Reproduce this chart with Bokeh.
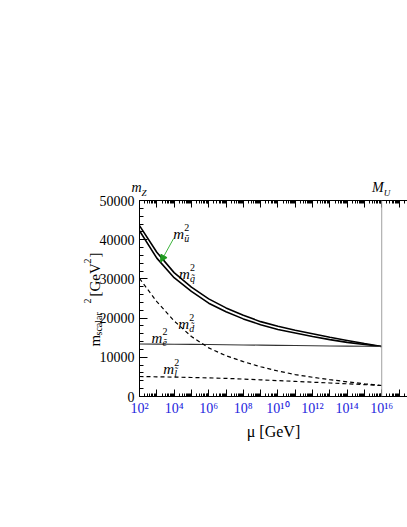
import numpy as np
from bokeh.plotting import figure
from bokeh.models import (Range1d, FixedTicker, SingleIntervalTicker, LogAxis,
                          Label, Arrow, NormalHead, Span)
from bokeh.embed import file_html
from bokeh.resources import INLINE

# ---------------- data ----------------
log_mu = [2, 3, 4, 5, 6, 7, 8, 9, 10, 11, 12, 13, 14, 15, 16]
mu = [10.0 ** l for l in log_mu]
m2_q = [43600, 36800, 31600, 27900, 24900, 22600, 20700, 19100, 17900, 16900, 16000, 15100, 14300, 13500, 12750]
m2_u = [42300, 35300, 30300, 26800, 23800, 21600, 19800, 18300, 17100, 16200, 15300, 14500, 13800, 13250, 12750]
m2_e = [13400, 13370, 13330, 13290, 13250, 13200, 13150, 13100, 13050, 13000, 12950, 12900, 12850, 12800, 12750]
m2_d = [30100, 24200, 19300, 15300, 12400, 10400, 8900, 7600, 6500, 5600, 4900, 4300, 3750, 3250, 2800]
m2_l = [5100, 5030, 4950, 4850, 4750, 4620, 4450, 4250, 4050, 3850, 3650, 3450, 3250, 3030, 2800]

mu_Z = 1e2
mu_U = 1e16

x_major = [10.0 ** k for k in range(2, 18)]
x_minor = [m * 10.0 ** k for k in range(1, 18) for m in range(2, 10)]
x_tick_labels = ["10²", "", "10⁴", "", "10⁶", "", "10⁸", "", "10¹⁰", "", "10¹²", "",
                 "10¹⁴", "", "10¹⁶", ""]

# curve labels: subscript, log10(mu) and value of the base "m"
lab_sub = ["ũ", "q̃", "d̃", "ẽ", "l̃"]
lab_logmu = [3.95, 4.28, 4.24, 2.69, 3.37]
lab_val = [41580, 31300, 18500, 15050, 7140]

SERIF = "Liberation Serif"

p = figure(width=407, height=518, x_axis_type="log",
           x_range=Range1d(1e2, 10 ** 17.49), y_range=Range1d(0, 50000),
           output_backend="svg", toolbar_location=None,
           min_border_left=139, min_border_right=0,
           min_border_top=200, min_border_bottom=122)
p.grid.visible = False
p.outline_line_color = None
p.background_fill_color = "white"
p.border_fill_color = "white"

xt = FixedTicker(ticks=x_major, minor_ticks=x_minor)
xa = p.xaxis[0]
xa.ticker = xt
xa.major_label_overrides = {t: s for t, s in zip(x_major, x_tick_labels)}
xa.major_label_text_font = SERIF
xa.major_label_text_font_size = "14px"
xa.major_label_text_color = "#2323dd"
xa.major_label_standoff = 4
xa.major_tick_in = 7
xa.major_tick_out = 0
xa.minor_tick_in = 3
xa.minor_tick_out = 0
xa.axis_label = "μ [GeV]"
xa.axis_label_text_font = SERIF
xa.axis_label_text_font_style = "normal"
xa.axis_label_text_font_size = "16px"
xa.axis_label_text_color = "black"
xa.axis_label_standoff = 4
xa.axis_line_color = "black"

top = LogAxis(ticker=xt, major_label_text_font_size="0px", axis_line_color="black",
              major_tick_in=7, major_tick_out=0, minor_tick_in=3, minor_tick_out=0)
top.major_label_overrides = {t: "" for t in x_major}
p.add_layout(top, "above")

ya = p.yaxis[0]
ya.ticker = SingleIntervalTicker(interval=10000, num_minor_ticks=5)
ya.major_label_text_font = SERIF
ya.major_label_text_font_size = "14px"
ya.major_label_text_color = "black"
ya.major_label_standoff = 5
ya.major_tick_in = 8
ya.major_tick_out = 0
ya.minor_tick_in = 4
ya.minor_tick_out = 0
ya.axis_line_color = "black"

# curves
p.line(mu, m2_q, line_color="black", line_width=1.6)
p.line(mu, m2_u, line_color="black", line_width=1.6)
p.line(mu, m2_e, line_color="#333333", line_width=1.1)
p.line(mu, m2_d, line_color="black", line_width=1.2, line_dash="4 3")
p.line(mu, m2_l, line_color="black", line_width=1.2, line_dash="4 3")

p.add_layout(Span(location=mu_U, dimension="height", line_color="#a0a0a0", line_width=1))

# arrow to m_u curve
p.add_layout(Arrow(end=NormalHead(size=7, fill_color="#1f9a1f", line_color="#1f9a1f"),
                   x_start=10 ** 3.97, y_start=40300, x_end=10 ** 3.22, y_end=34300,
                   line_color="#3cb43c", line_width=1))

# curve labels m^2_x
for sub, lx, v in zip(lab_sub, lab_logmu, lab_val):
    p.add_layout(Label(x=10 ** lx, y=v, text="m", text_font=SERIF, text_font_style="italic",
                       text_font_size="15px", text_baseline="alphabetic", text_color="black"))
    p.add_layout(Label(x=10 ** lx, y=v, x_offset=11, y_offset=6, text="2", text_font=SERIF,
                       text_font_size="10px", text_baseline="alphabetic", text_color="black"))
    p.add_layout(Label(x=10 ** lx, y=v, x_offset=11, y_offset=-5, text=sub, text_font=SERIF,
                       text_font_style="italic", text_font_size="10px",
                       text_baseline="alphabetic", text_color="black"))

# m_Z and M_U labels above the frame (placed in the top panel so they are not clipped)
outer = [
    Label(x=mu_Z, y=51300, text="m", text_font=SERIF, text_font_style="italic",
          text_font_size="14px", text_align="right", x_offset=2, text_color="black"),
    Label(x=mu_Z, y=51300, text="Z", text_font=SERIF, text_font_style="italic",
          text_font_size="9px", text_align="left", x_offset=2, y_offset=-3, text_color="black"),
    Label(x=mu_U, y=51300, text="M", text_font=SERIF, text_font_style="italic",
          text_font_size="14px", text_align="right", x_offset=2, text_color="black"),
    Label(x=mu_U, y=51300, text="U", text_font=SERIF, text_font_style="italic",
          text_font_size="9px", text_align="left", x_offset=2, y_offset=-3, text_color="black"),
]

# rotated y-axis label  m_scalar^2 [GeV^2]
A = np.pi / 2
ylab = [("m", -0.60, 12755, "15px"), ("scalar", -0.37, 15560, "10px"),
        ("2", -1.0, 23724, "10px"), ("[GeV", -0.60, 25510, "15px"),
        ("2", -1.0, 33930, "10px"), ("]", -0.60, 35460, "15px")]
for t, lx, v, fs in ylab:
    outer.append(Label(x=10 ** lx, y=v, text=t, angle=A, text_font=SERIF, text_color="black",
                       text_font_size=fs, text_baseline="alphabetic", text_align="left"))

for lab in outer:
    p.add_layout(lab, "above")

open("out.html", "w").write(file_html(p, INLINE))
